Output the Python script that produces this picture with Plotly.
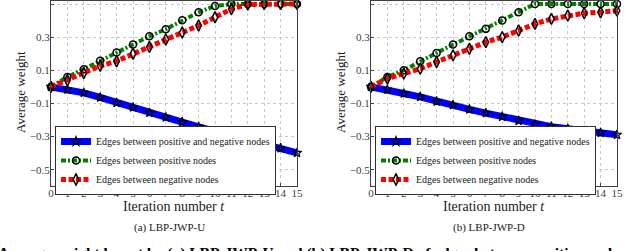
import plotly.graph_objects as go

iters = list(range(16))

# (a) LBP-JWP-U
u_posneg = [0.0, -0.016, -0.036, -0.064, -0.096, -0.124, -0.156, -0.184, -0.213,
            -0.241, -0.267, -0.292, -0.316, -0.343, -0.37, -0.398]
u_pos = [0.0, 0.06, 0.107, 0.157, 0.207, 0.255, 0.305, 0.348, 0.402,
         0.45, 0.488, 0.5, 0.5, 0.5, 0.5, 0.5]
u_neg = [0.0, 0.04, 0.084, 0.127, 0.155, 0.2, 0.241, 0.286, 0.328,
         0.37, 0.42, 0.47, 0.497, 0.5, 0.5, 0.5]

# (b) LBP-JWP-D
d_posneg = [0.0, -0.016, -0.04, -0.06, -0.088, -0.11, -0.136, -0.158, -0.18,
            -0.205, -0.227, -0.24, -0.253, -0.265, -0.277, -0.289]
d_pos = [0.0, 0.06, 0.1, 0.155, 0.205, 0.255, 0.305, 0.35, 0.4,
         0.45, 0.5, 0.5, 0.5, 0.5, 0.5, 0.5]
d_neg = [0.0, 0.05, 0.08, 0.11, 0.15, 0.19, 0.23, 0.27, 0.30,
         0.34, 0.38, 0.41, 0.43, 0.445, 0.45, 0.46]

names = ["Edges between positive and negative nodes",
         "Edges between positive nodes",
         "Edges between negative nodes"]
x_ticks = list(range(16))
y_ticks = [-0.5, -0.3, -0.1, 0.1, 0.3, 0.5]
x_title = "Iteration number <i>t</i>"
y_title = "Average weight"
captions = ["(a) LBP-JWP-U", "(b) LBP-JWP-D"]
fig_caption = ("Average weight learnt by (a) LBP-JWP-U and (b) LBP-JWP-D of edges "
               "between positive nodes and negative nodes")

SERIF = "Liberation Serif, DejaVu Serif, serif"
W, H = 640, 251

styles = [
    dict(line=dict(color="#0000ff", width=7, dash="solid"),
         marker=dict(symbol="star-open", size=7, color="black", line=dict(width=1.2, color="black"))),
    dict(line=dict(color="#008000", width=4, dash="5px,2px,2px,2px"),
         marker=dict(symbol="circle-open", size=7, color="black", line=dict(width=1.5, color="black"))),
    dict(line=dict(color="#ff0000", width=5, dash="5px,2.5px"),
         marker=dict(symbol="diamond-tall-open", size=8, color="black", line=dict(width=1.5, color="black"))),
]

fig = go.Figure()
panels = [(u_posneg, u_pos, u_neg), (d_posneg, d_pos, d_neg)]
for p, series in enumerate(panels):
    xa = "x" if p == 0 else "x2"
    ya = "y" if p == 0 else "y2"
    lg = "legend" if p == 0 else "legend2"
    for s, vals in enumerate(series):
        fig.add_trace(go.Scatter(
            x=iters, y=vals, mode="lines+markers", name=names[s],
            xaxis=xa, yaxis=ya, legend=lg, cliponaxis=False, hoverinfo="skip",
            **styles[s]))

plot_left = [51, 371]
plot_w = 246
plot_top, plot_bot = 0.7, 186.3
ydom = [1 - plot_bot / H, 1 - plot_top / H]

axis_common = dict(showline=True, linecolor="#404040", linewidth=1, mirror=True,
                   ticks="inside", ticklen=3, tickcolor="#404040", automargin=False,
                   showgrid=True, gridcolor="#c8c8c8", griddash="dot", gridwidth=1,
                   zeroline=False, tickfont=dict(family=SERIF, size=11, color="#404040"))

annotations = []
for p in range(2):
    sfx = "" if p == 0 else "2"
    xdom = [plot_left[p] / W, (plot_left[p] + plot_w) / W]
    fig.update_layout(**{
        "xaxis" + sfx: dict(domain=xdom, range=[0, 15], tickmode="array", tickvals=x_ticks,
                            anchor="y" + sfx, ticklabelstandoff=-4, **axis_common),
        "yaxis" + sfx: dict(domain=ydom, range=[-0.6, 0.52], tickmode="array", tickvals=y_ticks,
                            tickformat=".1f", anchor="x" + sfx, ticklabelstandoff=-2,
                            **axis_common),
        ("legend" if p == 0 else "legend2"): dict(
            x=(plot_left[p] + 4) / W, y=1 - 126 / H, xanchor="left", yanchor="top",
            bgcolor="white", bordercolor="#303030", borderwidth=1,
            font=dict(family=SERIF, size=10, color="#202020"),
            itemwidth=30, tracegroupgap=0),
    })
    cx = plot_left[p] + plot_w / 2
    annotations.append(dict(text=x_title, xref="paper", yref="paper",
                            x=cx / W, y=1 - 206 / H, xanchor="center", yanchor="middle",
                            showarrow=False, font=dict(family=SERIF, size=14, color="#202020")))
    annotations.append(dict(text=y_title, xref="paper", yref="paper", textangle=-90,
                            x=(plot_left[p] - 31) / W, y=1 - 92 / H,
                            xanchor="center", yanchor="middle",
                            showarrow=False, font=dict(family=SERIF, size=13, color="#202020")))
    annotations.append(dict(text=captions[p], xref="paper", yref="paper",
                            x=(cx - 5) / W, y=1 - 227 / H,
                            xanchor="center", yanchor="middle", showarrow=False,
                            font=dict(family=SERIF, size=11, color="#202020")))

annotations.append(dict(text="<b>" + fig_caption + "</b>", xref="paper", yref="paper",
                        x=-4 / W, y=1 - 253 / H, xanchor="left", yanchor="middle",
                        showarrow=False, font=dict(family=SERIF, size=15.5, color="black")))

fig.update_layout(template="none", width=W, height=H, annotations=annotations,
                  margin=dict(l=0, r=0, t=0, b=0, autoexpand=False),
                  font=dict(family=SERIF), plot_bgcolor="white", paper_bgcolor="white",
                  showlegend=True, hovermode=False)

fig.write_html("out.html", config={"displayModeBar": False},
               post_script="document.body.style.margin='0';")
